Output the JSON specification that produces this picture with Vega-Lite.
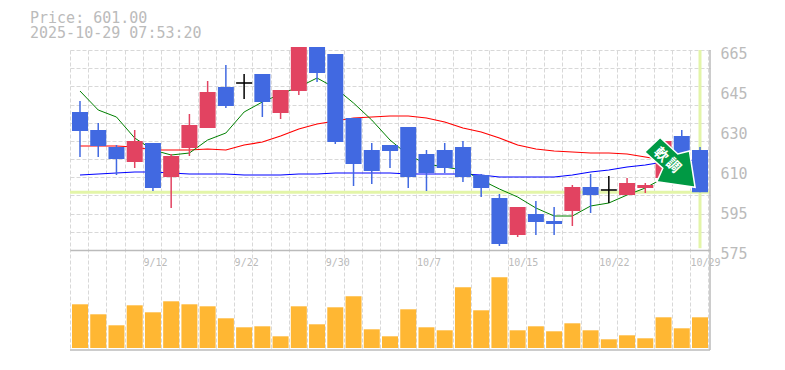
{"$schema":"https://vega.github.io/schema/vega-lite/v6.json","width":640,"height":300,"autosize":"none","padding":{"left":70,"top":50,"right":75,"bottom":20},"background":"white",
"title":{"text":["Price: 601.00","2025-10-29 07:53:20"],"anchor":"start","frame":"group","dx":-40,"offset":5,"lineHeight":15,"fontSize":15,"font":"DejaVu Sans Mono","fontWeight":"normal","color":"#bbbbbb"},
"config":{"view":{"stroke":null}},
"data":{"values":[
{"i":0,"date":"9/8","dir":"down","o":637.1,"h":642.05,"l":616.85,"c":628.55,"vol":43.7,"ma5":646.55,"ma25":621.8,"ma75":608.75},
{"i":1,"date":"9/9","dir":"down","o":629,"h":632.15,"l":616.85,"c":621.8,"vol":33.7,"ma5":638,"ma25":621.8,"ma75":609.2},
{"i":2,"date":"9/10","dir":"down","o":621.35,"h":622.25,"l":608.75,"c":615.95,"vol":22.7,"ma5":634.85,"ma25":621.8,"ma75":609.65},
{"i":3,"date":"9/11","dir":"up","o":614.6,"h":629,"l":611.9,"c":624.05,"vol":42.7,"ma5":625.4,"ma25":621.35,"ma75":610.1},
{"i":4,"date":"9/12","dir":"down","o":623.15,"h":623.15,"l":601.55,"c":602.9,"vol":35.7,"ma5":620,"ma25":620,"ma75":610.1},
{"i":5,"date":"9/16","dir":"up","o":607.85,"h":618.2,"l":593.9,"c":617.3,"vol":46.7,"ma5":617.75,"ma25":620,"ma75":609.65},
{"i":6,"date":"9/17","dir":"up","o":620.9,"h":636.2,"l":617.3,"c":631.25,"vol":43.7,"ma5":618.65,"ma25":620,"ma75":609.2},
{"i":7,"date":"9/18","dir":"up","o":629.9,"h":651.05,"l":629.9,"c":646.1,"vol":41.7,"ma5":624.5,"ma25":620.45,"ma75":609.2},
{"i":8,"date":"9/19","dir":"down","o":648.35,"h":658.25,"l":638.9,"c":639.8,"vol":29.7,"ma5":627.65,"ma25":620,"ma75":609.2},
{"i":9,"date":"9/22","dir":"flat","o":650.5,"h":654.2,"l":642.95,"c":649.8,"vol":20.7,"ma5":637.1,"ma25":622.25,"ma75":608.75},
{"i":10,"date":"9/24","dir":"down","o":654.2,"h":654.2,"l":634.85,"c":641.6,"vol":21.7,"ma5":641.6,"ma25":623.6,"ma75":608.75},
{"i":11,"date":"9/25","dir":"up","o":636.65,"h":647,"l":633.95,"c":647,"vol":11.7,"ma5":645.2,"ma25":626.3,"ma75":608.75},
{"i":12,"date":"9/26","dir":"up","o":646.55,"h":666.35,"l":644.75,"c":666.35,"vol":41.7,"ma5":648.35,"ma25":629.45,"ma75":609.2},
{"i":13,"date":"9/29","dir":"down","o":666.35,"h":666.35,"l":650.6,"c":654.65,"vol":23.7,"ma5":652.4,"ma25":631.7,"ma75":609.2},
{"i":14,"date":"9/30","dir":"down","o":663.2,"h":663.2,"l":622.7,"c":623.6,"vol":40.7,"ma5":647.9,"ma25":633.05,"ma75":609.65},
{"i":15,"date":"10/1","dir":"down","o":634.4,"h":634.4,"l":603.8,"c":613.7,"vol":51.7,"ma5":641.15,"ma25":634.4,"ma75":609.65},
{"i":16,"date":"10/2","dir":"down","o":620,"h":623.15,"l":604.7,"c":610.55,"vol":18.7,"ma5":633.5,"ma25":634.85,"ma75":609.65},
{"i":17,"date":"10/3","dir":"down","o":622.25,"h":622.25,"l":611.9,"c":619.55,"vol":11.7,"ma5":624.5,"ma25":635.3,"ma75":609.65},
{"i":18,"date":"10/6","dir":"down","o":630.35,"h":630.35,"l":602.9,"c":607.85,"vol":38.7,"ma5":617.75,"ma25":635.3,"ma75":609.2},
{"i":19,"date":"10/7","dir":"down","o":618.2,"h":620,"l":601.55,"c":609.65,"vol":20.7,"ma5":613.7,"ma25":634.4,"ma75":609.2},
{"i":20,"date":"10/8","dir":"down","o":620,"h":623.15,"l":609.65,"c":611.9,"vol":17.7,"ma5":612.35,"ma25":632.6,"ma75":609.2},
{"i":21,"date":"10/9","dir":"down","o":621.35,"h":624.05,"l":605.6,"c":607.85,"vol":60.7,"ma5":611,"ma25":629.9,"ma75":609.2},
{"i":22,"date":"10/10","dir":"down","o":608.75,"h":609.2,"l":598.85,"c":602.9,"vol":37.7,"ma5":606.5,"ma25":628.1,"ma75":608.75},
{"i":23,"date":"10/14","dir":"down","o":598.4,"h":600.2,"l":576.8,"c":577.7,"vol":70.7,"ma5":602.45,"ma25":625.4,"ma75":607.85},
{"i":24,"date":"10/15","dir":"up","o":581.75,"h":594.35,"l":580.85,"c":594.35,"vol":17.7,"ma5":598.85,"ma25":622.25,"ma75":607.85},
{"i":25,"date":"10/16","dir":"down","o":591.2,"h":597.05,"l":581.75,"c":587.6,"vol":21.7,"ma5":593.9,"ma25":620.45,"ma75":607.85},
{"i":26,"date":"10/17","dir":"down","o":588.05,"h":594.35,"l":581.75,"c":586.7,"vol":16.7,"ma5":590.3,"ma25":619.55,"ma75":607.85},
{"i":27,"date":"10/20","dir":"up","o":592.55,"h":604.25,"l":585.8,"c":603.35,"vol":24.7,"ma5":590.3,"ma25":619.1,"ma75":608.75},
{"i":28,"date":"10/21","dir":"down","o":603.35,"h":609.2,"l":591.65,"c":599.75,"vol":17.7,"ma5":594.8,"ma25":618.65,"ma75":610.1},
{"i":29,"date":"10/22","dir":"flat","o":602.35,"h":608.3,"l":596.15,"c":601.65,"vol":8.7,"ma5":596.15,"ma25":618.65,"ma75":611},
{"i":30,"date":"10/23","dir":"up","o":599.75,"h":607.4,"l":599.75,"c":605.15,"vol":12.7,"ma5":599.75,"ma25":618.2,"ma75":612.35},
{"i":31,"date":"10/24","dir":"up","o":602.9,"h":605.15,"l":600.65,"c":604.25,"vol":9.7,"ma5":602.9,"ma25":616.85,"ma75":613.25},
{"i":32,"date":"10/27","dir":"up","o":607.4,"h":624.05,"l":607.4,"c":624.05,"vol":30.7,"ma5":607.4,"ma25":615.5,"ma75":614.6},
{"i":33,"date":"10/28","dir":"down","o":626.3,"h":629,"l":618.65,"c":618.65,"vol":19.7,"ma5":611,"ma25":614.6,"ma75":615.05},
{"i":34,"date":"10/29","dir":"down","o":620,"h":621.35,"l":601,"c":601,"vol":30.7,"ma5":613.25,"ma25":613.7,"ma75":615.5}
]},
"resolve":{"scale":{"y":"independent"},"axis":{"y":"independent"}},
"layer":[
{"data":{"values":[{"price":601}]},"mark":{"type":"rule","color":"#e3f5a8","strokeWidth":3},
 "encoding":{"y":{"field":"price","type":"quantitative","scale":{"domain":[530,665],"nice":false,"zero":false},
  "axis":{"orient":"left","values":[575,583.18,591.36,599.55,607.73,615.91,624.09,632.27,640.45,648.64,656.82,665],"tickCount":12,"title":null,"labels":false,"ticks":false,"domain":false,"grid":true,"gridColor":"#d8d8d8","gridDash":[4,2],"gridWidth":1}}}},
{"layer":[
 {"data":{"values":[{"i":34,"low":575.8,"high":665}]},"mark":{"type":"rule","color":"#e3f5a8","strokeWidth":3},
  "encoding":{"x":{"field":"i","type":"quantitative","scale":{"domain":[-0.548,34.548],"nice":false,"zero":false,"padding":0},
    "axis":{"orient":"bottom","offset":-100,"title":null,"tickCount":36,"values":[-0.548,0.452,1.452,2.452,3.452,4.452,5.452,6.452,7.452,8.452,9.452,10.452,11.452,12.452,13.452,14.452,15.452,16.452,17.452,18.452,19.452,20.452,21.452,22.452,23.452,24.452,25.452,26.452,27.452,28.452,29.452,30.452,31.452,32.452,33.452,34.452],
     "labelExpr":"{'4':'9/12','9':'9/22','14':'9/30','19':'10/7','24':'10/15','29':'10/22','34':'10/29'}[''+round(datum.value+0.548)]||''","labelAlign":"left","labelFlush":false,"labelOverlap":false,"labelBound":false,"labelFont":"DejaVu Sans Mono","labelFontSize":10,"labelColor":"#bbbbbb","labelPadding":7,"ticks":false,"domain":true,"domainColor":"#bbbbbb","domainWidth":1.5,"grid":true,"gridColor":"#d8d8d8","gridDash":[4,2],"gridWidth":1}},
   "y":{"field":"low","type":"quantitative","scale":{"domain":[530,665],"nice":false,"zero":false},
    "axis":{"orient":"right","values":[575,593,611,629,647,665],"labelExpr":"{'575':'575','593':'595','611':'610','629':'630','647':'645','665':'665'}[''+datum.value]","title":null,"ticks":false,"domain":false,"grid":false,"labelFont":"DejaVu Sans Mono","labelFontSize":15,"labelColor":"#bbbbbb","labelPadding":10,"labelOffset":3,"labelOverlap":false,"labelBound":false,"labelFlush":false}},
   "y2":{"field":"high"}}},
 {"mark":{"type":"line","color":"#ff0000","strokeWidth":1.2},"encoding":{"x":{"field":"i","type":"quantitative"},"y":{"field":"ma25","type":"quantitative"}}},
 {"mark":{"type":"line","color":"#0000ff","strokeWidth":1.2},"encoding":{"x":{"field":"i","type":"quantitative"},"y":{"field":"ma75","type":"quantitative"}}},
 {"mark":{"type":"line","color":"#008000","strokeWidth":1},"encoding":{"x":{"field":"i","type":"quantitative"},"y":{"field":"ma5","type":"quantitative"}}},
 {"mark":{"type":"rule","strokeWidth":1.5},"encoding":{"x":{"field":"i","type":"quantitative"},"y":{"field":"h","type":"quantitative"},"y2":{"field":"l"},"color":{"field":"dir","type":"nominal","scale":{"domain":["up","down","flat"],"range":["#e24361","#4169e1","#000000"]},"legend":null}}},
 {"mark":{"type":"bar","size":16},"encoding":{"x":{"field":"i","type":"quantitative"},"y":{"field":"o","type":"quantitative"},"y2":{"field":"c"},"color":{"field":"dir","type":"nominal","legend":null}}},
 {"data":{"values":[{"i":32.36,"price":615.5}]},"mark":{"type":"point","filled":true,"opacity":1,"size":400,"fill":"#009944","stroke":"#ffffff","strokeWidth":1.5,"shape":"M-1,-2.25 L-2.53,-0.8 L-0.73,0.83 L-1.33,2.17 L2.5,2.73 L1.93,-0.9 L0.77,-0.6 Z"},"encoding":{"x":{"field":"i","type":"quantitative"},"y":{"field":"price","type":"quantitative"}}},
 {"data":{"values":[{"i":31.85,"price":617.75,"t":"軟"},{"i":32.52,"price":612.9,"t":"調"}]},"mark":{"type":"text","angle":45,"font":"Noto Sans CJK JP","fontWeight":"bold","fontSize":14,"color":"#ffffff","align":"center","baseline":"middle"},"encoding":{"x":{"field":"i","type":"quantitative"},"y":{"field":"price","type":"quantitative"},"text":{"field":"t"}}}
]},
{"layer":[
 {"mark":{"type":"bar","size":16,"color":"#ffb733"},"encoding":{"x":{"field":"i","type":"quantitative"},"y":{"field":"vol","type":"quantitative","scale":{"domain":[-2,298],"nice":false,"zero":false},"axis":null},"y2":{"datum":0}}},
 {"data":{"values":[{"v":-2}]},"mark":{"type":"rule","color":"#bbbbbb","strokeWidth":1.5},"encoding":{"y":{"field":"v","type":"quantitative"}}},
 {"data":{"values":[{"x":34.548}]},"mark":{"type":"rule","color":"#bbbbbb","strokeWidth":1.5},"encoding":{"x":{"field":"x","type":"quantitative"}}}
]}
]}
